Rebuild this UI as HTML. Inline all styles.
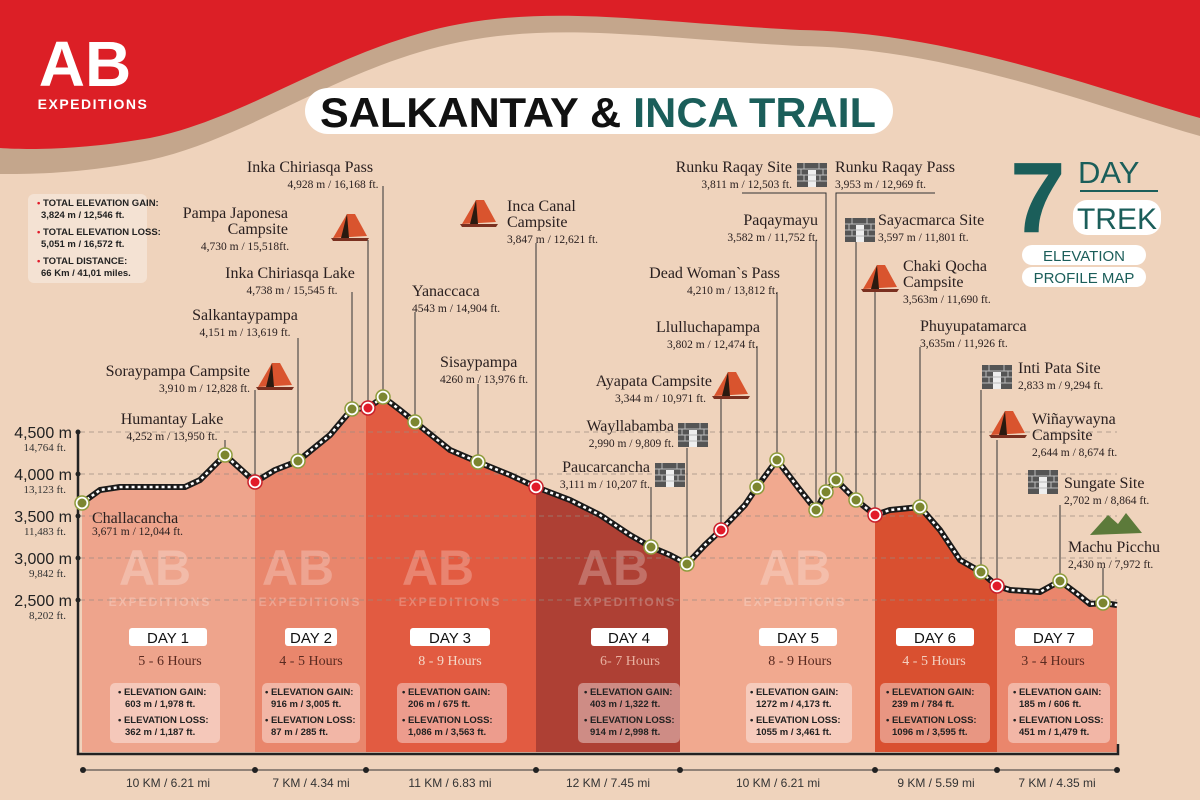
<!DOCTYPE html>
<html><head><meta charset="utf-8"><style>
html,body{margin:0;padding:0;background:#efd3bc;}
svg{display:block}
.t{font-family:"Liberation Serif",serif;font-size:16px;fill:#2a2020}
.s{font-family:"Liberation Serif",serif;font-size:11.5px;fill:#2a2020}
.ax{font-family:"Liberation Sans",sans-serif;font-size:16px;fill:#222}
.axs{font-family:"Liberation Serif",serif;font-size:11px;fill:#333}
.day{font-family:"Liberation Sans",sans-serif;font-size:15px;fill:#111;text-anchor:middle}
.hr{font-family:"Liberation Serif",serif;font-size:14px;text-anchor:middle}
.st{font-family:"Liberation Sans",sans-serif;font-size:9.5px;font-weight:bold;fill:#222}
.km{font-family:"Liberation Sans",sans-serif;font-size:12px;fill:#333;text-anchor:middle}
.ld{stroke:#333;stroke-width:1;fill:none}
</style></head><body>
<svg width="1200" height="800" viewBox="0 0 1200 800" xmlns="http://www.w3.org/2000/svg">
<defs>
<clipPath id="prof"><path d="M82,503 L100,490 L120,487 L185,487 L200,480 L225,455 L255,482 L275,470 L298,461 L330,435 L352,409 L368,408 L383,397 L400,410 L415,422 L450,450 L478,462 L510,475 L536,487 L570,500 L600,515 L630,535 L651,547 L670,555 L687,564 L705,545 L721,530 L745,505 L757,487 L777,460 L800,490 L816,510 L826,492 L836,480 L856,500 L875,515 L890,510 L920,507 L940,530 L960,560 L981,572 L997,586 L1010,590 L1040,592 L1060,581 L1080,596 L1090,604 L1103,603 L1117,605 L1117,752 L82,752 Z"/></clipPath>
<g id="tent"><path d="M0,24 L14,0 L22,0 L34,22 Z" fill="#d9542e"/><path d="M14,0 L8,24 L16,24 Z" fill="#2a1a10"/><path d="M-2,24 L36,24 L34,27 L0,27Z" fill="#7a3020"/></g>
<g id="wall"><rect x="0" y="0" width="30" height="24" fill="#555"/><rect x="11" y="7" width="8" height="17" fill="#eee"/><path d="M0,6 H30 M0,12 H30 M0,18 H30 M7,0 V6 M22,0 V6 M4,6 V12 M26,6 V12 M7,12V18 M23,12V18" stroke="#bbb" stroke-width="1"/></g>
<g id="gn"><circle r="7" fill="#fff" stroke="#8e9b3c" stroke-width="1.5"/><circle r="4.5" fill="#7c8630"/></g>
<g id="rn"><circle r="7" fill="#fff" stroke="#c9202a" stroke-width="1.5"/><circle r="4.5" fill="#e21b2a"/></g>
</defs>
<rect width="1200" height="800" fill="#efd3bc"/>
<!-- top band -->
<path d="M0,0 H1200 V136 C1100,108 950,48 800,46 C650,38 560,22 460,42 C340,66 250,138 150,160 C80,174 30,174 0,174 Z" fill="#c4a68c"/>
<path d="M0,0 H1200 V118 C1100,90 950,32 800,30 C650,22 560,6 460,24 C340,46 250,118 150,138 C80,150 30,150 0,148 Z" fill="#dc1f26"/>
<text x="85" y="86" font-family="Liberation Sans,sans-serif" font-weight="bold" font-size="64" fill="#fff" text-anchor="middle">AB</text>
<text x="93" y="109" font-family="Liberation Sans,sans-serif" font-weight="bold" font-size="14" letter-spacing="1.5" fill="#fff" text-anchor="middle">EXPEDITIONS</text>
<!-- title -->
<rect x="305" y="88" width="588" height="46" rx="23" fill="#fff"/>
<text x="320" y="127" font-family="Liberation Sans,sans-serif" font-weight="bold" font-size="42" fill="#111" textLength="556" lengthAdjust="spacingAndGlyphs">SALKANTAY <tspan fill="#111">&amp;</tspan> <tspan fill="#1b5e5a">INCA TRAIL</tspan></text>
<!-- 7 day -->
<text x="1010" y="232" font-family="Liberation Sans,sans-serif" font-weight="bold" font-size="100" fill="#1b5e5a">7</text>
<text x="1078" y="183" font-family="Liberation Sans,sans-serif" font-size="31" fill="#1b5e5a">DAY</text>
<rect x="1080" y="190" width="78" height="2" fill="#1b5e5a"/>
<rect x="1073" y="200" width="88" height="35" rx="14" fill="#fff"/>
<text x="1117" y="229" font-family="Liberation Sans,sans-serif" font-size="30" fill="#1b5e5a" text-anchor="middle">TREK</text>
<rect x="1022" y="245" width="124" height="20" rx="10" fill="#fff"/>
<text x="1084" y="261" font-family="Liberation Sans,sans-serif" font-size="15" fill="#1b5e5a" text-anchor="middle">ELEVATION</text>
<rect x="1022" y="267" width="124" height="20" rx="10" fill="#fff"/>
<text x="1084" y="283" font-family="Liberation Sans,sans-serif" font-size="15" fill="#1b5e5a" text-anchor="middle">PROFILE MAP</text>
<!-- totals -->
<rect x="28" y="194" width="119" height="89" rx="6" fill="#fff" fill-opacity="0.35"/>
<g class="st"><text x="37" y="206"><tspan fill="#e21b2a">•</tspan> TOTAL ELEVATION GAIN:</text><text x="41" y="218">3,824 m / 12,546 ft.</text>
<text x="37" y="235"><tspan fill="#e21b2a">•</tspan> TOTAL ELEVATION LOSS:</text><text x="41" y="247">5,051 m / 16,572 ft.</text>
<text x="37" y="264"><tspan fill="#e21b2a">•</tspan> TOTAL DISTANCE:</text><text x="41" y="276">66 Km / 41,01 miles.</text></g>
<!-- day fills -->
<g clip-path="url(#prof)">
<rect x="82" y="380" width="173" height="372" fill="#eea48c"/>
<rect x="255" y="380" width="111" height="372" fill="#e9866c"/>
<rect x="366" y="380" width="170" height="372" fill="#e25b41"/>
<rect x="536" y="380" width="144" height="372" fill="#ae4034"/>
<rect x="680" y="380" width="195" height="372" fill="#f1a98f"/>
<rect x="875" y="380" width="122" height="372" fill="#d95030"/>
<rect x="997" y="380" width="120" height="372" fill="#ea866c"/>
</g>
<!-- watermarks -->
<g font-family="Liberation Sans,sans-serif" font-weight="bold" fill="#fff" fill-opacity="0.25" text-anchor="middle">
<text x="155" y="585" font-size="50">AB</text><text x="298" y="585" font-size="50">AB</text><text x="438" y="585" font-size="50">AB</text><text x="613" y="585" font-size="50">AB</text><text x="795" y="585" font-size="50">AB</text>
<g font-size="12" letter-spacing="2"><text x="160" y="606">EXPEDITIONS</text><text x="310" y="606">EXPEDITIONS</text><text x="450" y="606">EXPEDITIONS</text><text x="625" y="606">EXPEDITIONS</text><text x="795" y="606">EXPEDITIONS</text></g>
</g>
<!-- grid -->
<g stroke="#9a8a80" stroke-width="1" stroke-dasharray="5,4" opacity="0.7">
<line x1="80" y1="432" x2="1117" y2="432"/><line x1="80" y1="474" x2="1117" y2="474"/><line x1="80" y1="516" x2="1117" y2="516"/><line x1="80" y1="558" x2="1117" y2="558"/><line x1="80" y1="600" x2="1117" y2="600"/>
</g>
<!-- axes -->
<path d="M78,430 V754 H1118 V744" stroke="#222" stroke-width="2.5" fill="none"/>
<g fill="#222"><circle cx="78" cy="432" r="2.5"/><circle cx="78" cy="474" r="2.5"/><circle cx="78" cy="516" r="2.5"/><circle cx="78" cy="558" r="2.5"/><circle cx="78" cy="600" r="2.5"/></g>
<g text-anchor="end"><text class="ax" x="72" y="438">4,500 m</text><text class="axs" x="66" y="451">14,764 ft.</text>
<text class="ax" x="72" y="480">4,000 m</text><text class="axs" x="66" y="493">13,123 ft.</text>
<text class="ax" x="72" y="522">3,500 m</text><text class="axs" x="66" y="535">11,483 ft.</text>
<text class="ax" x="72" y="564">3,000 m</text><text class="axs" x="66" y="577">9,842 ft.</text>
<text class="ax" x="72" y="606">2,500 m</text><text class="axs" x="66" y="619">8,202 ft.</text></g>
<!-- leaders -->
<g class="ld">
<path d="M225,440V450"/><path d="M255,390V478"/><path d="M298,338V455"/><path d="M352,292V403"/><path d="M368,240V402"/><path d="M383,186V391"/>
<path d="M415,312V416"/><path d="M478,384V456"/><path d="M536,243V481"/><path d="M651,487V541"/><path d="M687,448V558"/><path d="M721,398V524"/>
<path d="M757,346V481"/><path d="M777,292V454"/><path d="M816,240V504"/><path d="M742,193H826V486"/><path d="M935,193H836V474"/><path d="M856,242V494"/>
<path d="M875,290V509"/><path d="M920,347V500"/><path d="M981,390V566"/><path d="M997,440V580"/><path d="M1060,505V575"/><path d="M1103,568V597"/>
</g>
<!-- trail -->
<path d="M82,503 L100,490 L120,487 L185,487 L200,480 L225,455 L255,482 L275,470 L298,461 L330,435 L352,409 L368,408 L383,397 L400,410 L415,422 L450,450 L478,462 L510,475 L536,487 L570,500 L600,515 L630,535 L651,547 L670,555 L687,564 L705,545 L721,530 L745,505 L757,487 L777,460 L800,490 L816,510 L826,492 L836,480 L856,500 L875,515 L890,510 L920,507 L940,530 L960,560 L981,572 L997,586 L1010,590 L1040,592 L1060,581 L1080,596 L1090,604 L1103,603 L1117,605" fill="none" stroke="#1a1a1a" stroke-width="6" stroke-linejoin="round"/>
<path d="M82,503 L100,490 L120,487 L185,487 L200,480 L225,455 L255,482 L275,470 L298,461 L330,435 L352,409 L368,408 L383,397 L400,410 L415,422 L450,450 L478,462 L510,475 L536,487 L570,500 L600,515 L630,535 L651,547 L670,555 L687,564 L705,545 L721,530 L745,505 L757,487 L777,460 L800,490 L816,510 L826,492 L836,480 L856,500 L875,515 L890,510 L920,507 L940,530 L960,560 L981,572 L997,586 L1010,590 L1040,592 L1060,581 L1080,596 L1090,604 L1103,603 L1117,605" fill="none" stroke="#fff" stroke-width="2.5" stroke-dasharray="3,3"/>
<!-- nodes -->
<use href="#gn" x="82" y="503"/><use href="#gn" x="225" y="455"/><use href="#rn" x="255" y="482"/><use href="#gn" x="298" y="461"/><use href="#gn" x="352" y="409"/><use href="#rn" x="368" y="408"/><use href="#gn" x="383" y="397"/><use href="#gn" x="415" y="422"/><use href="#gn" x="478" y="462"/><use href="#rn" x="536" y="487"/><use href="#gn" x="651" y="547"/><use href="#gn" x="687" y="564"/><use href="#rn" x="721" y="530"/><use href="#gn" x="757" y="487"/><use href="#gn" x="777" y="460"/><use href="#gn" x="816" y="510"/><use href="#gn" x="826" y="492"/><use href="#gn" x="836" y="480"/><use href="#gn" x="856" y="500"/><use href="#rn" x="875" y="515"/><use href="#gn" x="920" y="507"/><use href="#gn" x="981" y="572"/><use href="#rn" x="997" y="586"/><use href="#gn" x="1060" y="581"/><use href="#gn" x="1103" y="603"/>
<!-- labels -->
<text class="t" x="92" y="523" font-size="18">Challacancha</text><text class="s" x="92" y="535">3,671 m / 12,044 ft.</text>
<text class="t" x="172" y="424" text-anchor="middle">Humantay Lake</text><text class="s" x="172" y="440" text-anchor="middle">4,252 m / 13,950 ft.</text>
<text class="t" x="250" y="376" text-anchor="end">Soraypampa Campsite</text><text class="s" x="250" y="392" text-anchor="end">3,910 m / 12,828 ft.</text><use href="#tent" x="258" y="363"/>
<text class="t" x="245" y="320" text-anchor="middle">Salkantaypampa</text><text class="s" x="245" y="336" text-anchor="middle">4,151 m / 13,619 ft.</text>
<text class="t" x="290" y="278" text-anchor="middle">Inka Chiriasqa Lake</text><text class="s" x="292" y="294" text-anchor="middle">4,738 m / 15,545 ft.</text>
<text class="t" x="288" y="218" text-anchor="end">Pampa Japonesa</text><text class="t" x="288" y="234" text-anchor="end">Campsite</text><text class="s" x="245" y="250" text-anchor="middle">4,730 m / 15,518ft.</text><use href="#tent" x="333" y="214"/>
<text class="t" x="310" y="172" text-anchor="middle">Inka Chiriasqa Pass</text><text class="s" x="333" y="188" text-anchor="middle">4,928 m / 16,168 ft.</text>
<text class="t" x="412" y="296">Yanaccaca</text><text class="s" x="412" y="312">4543 m / 14,904 ft.</text>
<text class="t" x="440" y="367">Sisaypampa</text><text class="s" x="440" y="383">4260 m / 13,976 ft.</text>
<use href="#tent" x="462" y="200"/><text class="t" x="507" y="211">Inca Canal</text><text class="t" x="507" y="227">Campsite</text><text class="s" x="507" y="243">3,847 m / 12,621 ft.</text>
<text class="t" x="650" y="472" text-anchor="end">Paucarcancha</text><text class="s" x="650" y="488" text-anchor="end">3,111 m / 10,207 ft.</text><use href="#wall" x="655" y="463"/>
<text class="t" x="674" y="431" text-anchor="end">Wayllabamba</text><text class="s" x="674" y="447" text-anchor="end">2,990 m / 9,809 ft.</text><use href="#wall" x="678" y="423"/>
<text class="t" x="712" y="386" text-anchor="end">Ayapata Campsite</text><text class="s" x="706" y="402" text-anchor="end">3,344 m / 10,971 ft.</text><use href="#tent" x="714" y="372"/>
<text class="t" x="760" y="332" text-anchor="end">Llulluchapampa</text><text class="s" x="758" y="348" text-anchor="end">3,802 m / 12,474 ft.</text>
<text class="t" x="780" y="278" text-anchor="end">Dead Woman`s Pass</text><text class="s" x="778" y="294" text-anchor="end">4,210 m / 13,812 ft.</text>
<text class="t" x="818" y="225" text-anchor="end">Paqaymayu</text><text class="s" x="818" y="241" text-anchor="end">3,582 m / 11,752 ft.</text>
<text class="t" x="792" y="172" text-anchor="end">Runku Raqay Site</text><text class="s" x="792" y="188" text-anchor="end">3,811 m / 12,503 ft.</text><use href="#wall" x="797" y="163"/>
<text class="t" x="835" y="172">Runku Raqay Pass</text><text class="s" x="835" y="188">3,953 m / 12,969 ft.</text>
<use href="#wall" x="845" y="218"/><text class="t" x="878" y="225">Sayacmarca Site</text><text class="s" x="878" y="241">3,597 m / 11,801 ft.</text>
<use href="#tent" x="863" y="265"/><text class="t" x="903" y="271">Chaki Qocha</text><text class="t" x="903" y="287">Campsite</text><text class="s" x="903" y="303">3,563m / 11,690 ft.</text>
<text class="t" x="920" y="331">Phuyupatamarca</text><text class="s" x="920" y="347">3,635m / 11,926 ft.</text>
<use href="#wall" x="982" y="365"/><text class="t" x="1018" y="373">Inti Pata Site</text><text class="s" x="1018" y="389">2,833 m / 9,294 ft.</text>
<use href="#tent" x="991" y="411"/><text class="t" x="1032" y="424">Wiñaywayna</text><text class="t" x="1032" y="440">Campsite</text><text class="s" x="1032" y="456">2,644 m / 8,674 ft.</text>
<use href="#wall" x="1028" y="470"/><text class="t" x="1064" y="488">Sungate Site</text><text class="s" x="1064" y="504">2,702 m / 8,864 ft.</text>
<path d="M1090,535 L1108,515 L1118,524 L1126,513 L1142,533 Z" fill="#5c7a3a"/>
<text class="t" x="1068" y="552">Machu Picchu</text><text class="s" x="1068" y="568">2,430 m / 7,972 ft.</text>
<!-- day labels -->
<g>
<rect x="129" y="628" width="78" height="18" rx="3" fill="#fff"/><text class="day" x="168" y="643">DAY 1</text>
<rect x="285" y="628" width="52" height="18" rx="3" fill="#fff"/><text class="day" x="311" y="643">DAY 2</text>
<rect x="410" y="628" width="80" height="18" rx="3" fill="#fff"/><text class="day" x="450" y="643">DAY 3</text>
<rect x="591" y="628" width="77" height="18" rx="3" fill="#fff"/><text class="day" x="629" y="643">DAY 4</text>
<rect x="759" y="628" width="78" height="18" rx="3" fill="#fff"/><text class="day" x="798" y="643">DAY 5</text>
<rect x="896" y="628" width="78" height="18" rx="3" fill="#fff"/><text class="day" x="935" y="643">DAY 6</text>
<rect x="1015" y="628" width="78" height="18" rx="3" fill="#fff"/><text class="day" x="1054" y="643">DAY 7</text>
</g>
<text class="hr" x="170" y="665" fill="#5a2a20">5 - 6 Hours</text>
<text class="hr" x="311" y="665" fill="#5a2a20">4 - 5 Hours</text>
<text class="hr" x="450" y="665" fill="#f4d8c8">8 - 9 Hours</text>
<text class="hr" x="630" y="665" fill="#e8b0a0">6- 7 Hours</text>
<text class="hr" x="800" y="665" fill="#5a2a20">8 - 9 Hours</text>
<text class="hr" x="934" y="665" fill="#f4d0c0">4 - 5 Hours</text>
<text class="hr" x="1053" y="665" fill="#5a2a20">3 - 4 Hours</text>
<!-- stats -->
<g fill="#fff" fill-opacity="0.4">
<rect x="110" y="683" width="110" height="60" rx="5"/><rect x="262" y="683" width="98" height="60" rx="5"/><rect x="397" y="683" width="110" height="60" rx="5"/><rect x="578" y="683" width="102" height="60" rx="5"/><rect x="746" y="683" width="106" height="60" rx="5"/><rect x="880" y="683" width="110" height="60" rx="5"/><rect x="1008" y="683" width="102" height="60" rx="5"/>
</g>
<g class="st">
<text x="118" y="695">• ELEVATION GAIN:</text><text x="125" y="707">603 m / 1,978 ft.</text><text x="118" y="723">• ELEVATION LOSS:</text><text x="125" y="735">362 m / 1,187 ft.</text>
<text x="265" y="695">• ELEVATION GAIN:</text><text x="271" y="707">916 m / 3,005 ft.</text><text x="265" y="723">• ELEVATION LOSS:</text><text x="271" y="735">87 m / 285 ft.</text>
<text x="402" y="695">• ELEVATION GAIN:</text><text x="408" y="707">206 m / 675 ft.</text><text x="402" y="723">• ELEVATION LOSS:</text><text x="408" y="735">1,086 m / 3,563 ft.</text>
<text x="584" y="695">• ELEVATION GAIN:</text><text x="590" y="707">403 m / 1,322 ft.</text><text x="584" y="723">• ELEVATION LOSS:</text><text x="590" y="735">914 m / 2,998 ft.</text>
<text x="750" y="695">• ELEVATION GAIN:</text><text x="756" y="707">1272 m / 4,173 ft.</text><text x="750" y="723">• ELEVATION LOSS:</text><text x="756" y="735">1055 m / 3,461 ft.</text>
<text x="886" y="695">• ELEVATION GAIN:</text><text x="892" y="707">239 m / 784 ft.</text><text x="886" y="723">• ELEVATION LOSS:</text><text x="892" y="735">1096 m / 3,595 ft.</text>
<text x="1013" y="695">• ELEVATION GAIN:</text><text x="1019" y="707">185 m / 606 ft.</text><text x="1013" y="723">• ELEVATION LOSS:</text><text x="1019" y="735">451 m / 1,479 ft.</text>
</g>
<!-- distance axis -->
<line x1="83" y1="770" x2="1117" y2="770" stroke="#333" stroke-width="1"/>
<g fill="#222"><circle cx="83" cy="770" r="3"/><circle cx="255" cy="770" r="3"/><circle cx="366" cy="770" r="3"/><circle cx="536" cy="770" r="3"/><circle cx="680" cy="770" r="3"/><circle cx="875" cy="770" r="3"/><circle cx="997" cy="770" r="3"/><circle cx="1117" cy="770" r="3"/></g>
<text class="km" x="168" y="787">10 KM / 6.21 mi</text><text class="km" x="311" y="787">7 KM / 4.34 mi</text><text class="km" x="450" y="787">11 KM / 6.83 mi</text><text class="km" x="608" y="787">12 KM / 7.45 mi</text><text class="km" x="778" y="787">10 KM / 6.21 mi</text><text class="km" x="936" y="787">9 KM / 5.59 mi</text><text class="km" x="1057" y="787">7 KM / 4.35 mi</text>
</svg>
</body></html>
